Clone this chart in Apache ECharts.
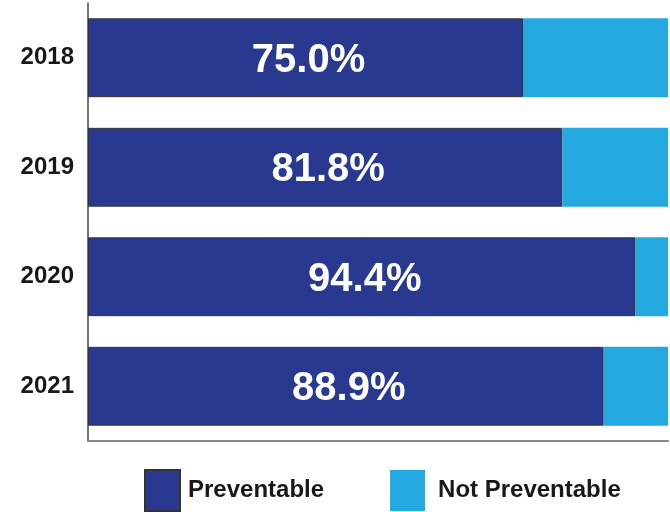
<!DOCTYPE html>
<html>
<head>
<meta charset="utf-8">
<script src="https://cdn.jsdelivr.net/npm/echarts@6/dist/echarts.min.js"></script>
<style>
html,body{margin:0;padding:0;background:#fff;}
#chart{width:670px;height:512px;}
</style>
</head>
<body>
<div id="chart"></div>
<script>
var years = ['2018', '2019', '2020', '2021'];
var preventable = [75.0, 81.8, 94.4, 88.9];
var notPreventable = [25.0, 18.2, 5.6, 11.1];
var seriesNames = ['Preventable', 'Not Preventable'];

var FONT = '"Liberation Sans", Arial, sans-serif';
var chart = echarts.init(document.getElementById('chart'), null, {renderer: 'canvas'});
chart.setOption({
  animation: false,
  textStyle: {fontFamily: FONT},
  grid: {left: 88, right: 2, top: 3, bottom: 71, containLabel: false},
  legend: {
    data: [
      {name: seriesNames[0]},
      {name: seriesNames[1], textStyle: {padding: [0, 0, 0, 8]}}
    ],
    left: 139,
    top: 464,
    itemWidth: 35,
    itemHeight: 41,
    itemGap: 66,
    icon: 'rect',
    textStyle: {fontFamily: FONT, fontSize: 24, fontWeight: 'bold', color: '#1a1718', padding: [0, 0, 0, 3]}
  },
  xAxis: {
    type: 'value',
    min: 0,
    max: 100,
    axisLine: {show: true, lineStyle: {color: '#888', width: 2}},
    axisTick: {show: false},
    axisLabel: {show: false},
    splitLine: {show: false}
  },
  yAxis: {
    type: 'category',
    data: years,
    inverse: true,
    axisLine: {show: true, lineStyle: {color: '#444', width: 1.5}},
    axisTick: {show: false},
    axisLabel: {fontFamily: FONT, fontSize: 24, fontWeight: 'bold', color: '#1a1718', margin: 14, padding: [4, 0, 0, 0]}
  },
  series: [
    {
      name: seriesNames[0],
      type: 'bar',
      stack: 'total',
      barCategoryGap: '28%',
      data: preventable,
      itemStyle: {color: '#28398f', borderColor: '#333', borderWidth: 1},
      label: {
        show: true,
        position: 'inside',
        offset: [3, 3],
        formatter: function (p) { return p.value.toFixed(1) + '%'; },
        color: '#fff',
        fontFamily: FONT,
        fontSize: 40,
        fontWeight: 'bold'
      }
    },
    {
      name: seriesNames[1],
      type: 'bar',
      stack: 'total',
      barCategoryGap: '28%',
      data: notPreventable,
      itemStyle: {color: '#23a8e0'}
    }
  ]
});
</script>
</body>
</html>
